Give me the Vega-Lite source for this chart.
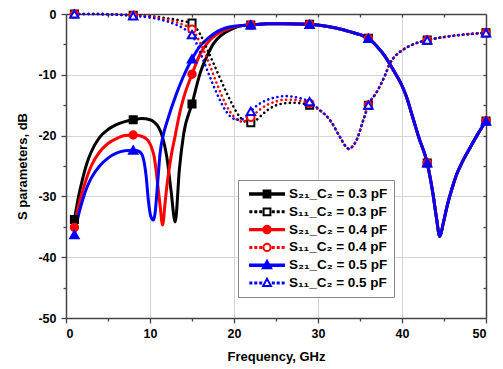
{
  "$schema": "https://vega.github.io/schema/vega-lite/v6.json",
  "width": 420,
  "height": 304,
  "autosize": "none",
  "padding": {"left": 66, "top": 14, "right": 17, "bottom": 51},
  "background": "white",
  "config": {
    "font": "Liberation Sans",
    "view": {"stroke": null},
    "legend": {"orient": "none", "legendX": 172, "legendY": 166, "padding": 6,
      "strokeColor": "#888", "fillColor": "white", "symbolSize": 1156, "symbolStrokeWidth": 2,
      "clipHeight": 16, "rowPadding": 1.8, "labelFont": "Liberation Sans", "labelFontSize": 13.5,
      "labelFontWeight": "bold", "labelColor": "black", "labelOffset": 4, "symbolOffset": 5}
  },
  "datasets": {
    "d": [
      {"s":"S₂₁_C₂ = 0.3 pF","f":1,"v":-33.8},{"s":"S₂₁_C₂ = 0.3 pF","f":1.5,"v":-30},{"s":"S₂₁_C₂ = 0.3 pF","f":2,"v":-27},{"s":"S₂₁_C₂ = 0.3 pF","f":2.5,"v":-24.5},{"s":"S₂₁_C₂ = 0.3 pF","f":3,"v":-22.7},{"s":"S₂₁_C₂ = 0.3 pF","f":4,"v":-20.3},{"s":"S₂₁_C₂ = 0.3 pF","f":5,"v":-19},{"s":"S₂₁_C₂ = 0.3 pF","f":6,"v":-18.2},{"s":"S₂₁_C₂ = 0.3 pF","f":7,"v":-17.7},{"s":"S₂₁_C₂ = 0.3 pF","f":8,"v":-17.4},{"s":"S₂₁_C₂ = 0.3 pF","f":9,"v":-17.2},{"s":"S₂₁_C₂ = 0.3 pF","f":10,"v":-17.4},{"s":"S₂₁_C₂ = 0.3 pF","f":10.5,"v":-17.8},{"s":"S₂₁_C₂ = 0.3 pF","f":11,"v":-18.6},{"s":"S₂₁_C₂ = 0.3 pF","f":11.5,"v":-20.3},{"s":"S₂₁_C₂ = 0.3 pF","f":12,"v":-23.5},{"s":"S₂₁_C₂ = 0.3 pF","f":12.5,"v":-29},{"s":"S₂₁_C₂ = 0.3 pF","f":13,"v":-34.2},{"s":"S₂₁_C₂ = 0.3 pF","f":13.5,"v":-25.5},{"s":"S₂₁_C₂ = 0.3 pF","f":14,"v":-19.8},{"s":"S₂₁_C₂ = 0.3 pF","f":15,"v":-14.8},{"s":"S₂₁_C₂ = 0.3 pF","f":16,"v":-9.6},{"s":"S₂₁_C₂ = 0.3 pF","f":16.5,"v":-7.8},{"s":"S₂₁_C₂ = 0.3 pF","f":17,"v":-6.3},{"s":"S₂₁_C₂ = 0.3 pF","f":17.5,"v":-5.0},{"s":"S₂₁_C₂ = 0.3 pF","f":18,"v":-4.1},{"s":"S₂₁_C₂ = 0.3 pF","f":19,"v":-3.0},{"s":"S₂₁_C₂ = 0.3 pF","f":20,"v":-2.3},{"s":"S₂₁_C₂ = 0.3 pF","f":21,"v":-1.9},{"s":"S₂₁_C₂ = 0.3 pF","f":22,"v":-1.8},
      {"s":"S₂₁_C₂ = 0.3 pF","f":24,"v":-1.6},{"s":"S₂₁_C₂ = 0.3 pF","f":26,"v":-1.6},{"s":"S₂₁_C₂ = 0.3 pF","f":29,"v":-1.7},{"s":"S₂₁_C₂ = 0.3 pF","f":31,"v":-2.0},{"s":"S₂₁_C₂ = 0.3 pF","f":33,"v":-2.6},{"s":"S₂₁_C₂ = 0.3 pF","f":34,"v":-3.0},{"s":"S₂₁_C₂ = 0.3 pF","f":35,"v":-3.4},{"s":"S₂₁_C₂ = 0.3 pF","f":36,"v":-4.0},{"s":"S₂₁_C₂ = 0.3 pF","f":37,"v":-5.3},{"s":"S₂₁_C₂ = 0.3 pF","f":38,"v":-7.0},{"s":"S₂₁_C₂ = 0.3 pF","f":39,"v":-9.3},{"s":"S₂₁_C₂ = 0.3 pF","f":40,"v":-11.8},{"s":"S₂₁_C₂ = 0.3 pF","f":40.5,"v":-13.5},{"s":"S₂₁_C₂ = 0.3 pF","f":41.3,"v":-17.1},{"s":"S₂₁_C₂ = 0.3 pF","f":42,"v":-20.3},{"s":"S₂₁_C₂ = 0.3 pF","f":43,"v":-24.5},{"s":"S₂₁_C₂ = 0.3 pF","f":43.7,"v":-29.7},{"s":"S₂₁_C₂ = 0.3 pF","f":44.1,"v":-33.5},{"s":"S₂₁_C₂ = 0.3 pF","f":44.5,"v":-36.6},{"s":"S₂₁_C₂ = 0.3 pF","f":44.9,"v":-34.5},{"s":"S₂₁_C₂ = 0.3 pF","f":45.3,"v":-32},{"s":"S₂₁_C₂ = 0.3 pF","f":46,"v":-28.5},{"s":"S₂₁_C₂ = 0.3 pF","f":46.5,"v":-26.4},{"s":"S₂₁_C₂ = 0.3 pF","f":47.3,"v":-24},{"s":"S₂₁_C₂ = 0.3 pF","f":48.1,"v":-22},{"s":"S₂₁_C₂ = 0.3 pF","f":49,"v":-19.8},{"s":"S₂₁_C₂ = 0.3 pF","f":50,"v":-17.6},

      {"s":"S₁₁_C₂ = 0.3 pF","f":1,"v":0},{"s":"S₁₁_C₂ = 0.3 pF","f":3,"v":0},{"s":"S₁₁_C₂ = 0.3 pF","f":5,"v":-0.05},{"s":"S₁₁_C₂ = 0.3 pF","f":8,"v":-0.2},{"s":"S₁₁_C₂ = 0.3 pF","f":10,"v":-0.35},{"s":"S₁₁_C₂ = 0.3 pF","f":11,"v":-0.5},{"s":"S₁₁_C₂ = 0.3 pF","f":12,"v":-0.7},{"s":"S₁₁_C₂ = 0.3 pF","f":13,"v":-0.9},{"s":"S₁₁_C₂ = 0.3 pF","f":14,"v":-1.2},{"s":"S₁₁_C₂ = 0.3 pF","f":15,"v":-1.5},{"s":"S₁₁_C₂ = 0.3 pF","f":15.5,"v":-2.3},{"s":"S₁₁_C₂ = 0.3 pF","f":16,"v":-3.4},{"s":"S₁₁_C₂ = 0.3 pF","f":17,"v":-6.4},{"s":"S₁₁_C₂ = 0.3 pF","f":18,"v":-9.5},{"s":"S₁₁_C₂ = 0.3 pF","f":19,"v":-12.6},{"s":"S₁₁_C₂ = 0.3 pF","f":19.8,"v":-14.9},{"s":"S₁₁_C₂ = 0.3 pF","f":20.8,"v":-17.1},{"s":"S₁₁_C₂ = 0.3 pF","f":21.5,"v":-17.8},{"s":"S₁₁_C₂ = 0.3 pF","f":22,"v":-17.9},{"s":"S₁₁_C₂ = 0.3 pF","f":22.5,"v":-17.6},{"s":"S₁₁_C₂ = 0.3 pF","f":23.4,"v":-16.5},{"s":"S₁₁_C₂ = 0.3 pF","f":24,"v":-15.8},{"s":"S₁₁_C₂ = 0.3 pF","f":25,"v":-15.0},{"s":"S₁₁_C₂ = 0.3 pF","f":26,"v":-14.7},{"s":"S₁₁_C₂ = 0.3 pF","f":27,"v":-14.6},{"s":"S₁₁_C₂ = 0.3 pF","f":28,"v":-14.7},{"s":"S₁₁_C₂ = 0.3 pF","f":29,"v":-15.0},
      {"s":"S₁₁_C₂ = 0.3 pF","f":30.2,"v":-15.8},{"s":"S₁₁_C₂ = 0.3 pF","f":31.4,"v":-17.4},{"s":"S₁₁_C₂ = 0.3 pF","f":32.6,"v":-20.2},{"s":"S₁₁_C₂ = 0.3 pF","f":33.2,"v":-21.6},{"s":"S₁₁_C₂ = 0.3 pF","f":33.7,"v":-22.2},{"s":"S₁₁_C₂ = 0.3 pF","f":34.1,"v":-21.8},{"s":"S₁₁_C₂ = 0.3 pF","f":34.6,"v":-20.7},{"s":"S₁₁_C₂ = 0.3 pF","f":35.4,"v":-17.4},{"s":"S₁₁_C₂ = 0.3 pF","f":36,"v":-15.0},{"s":"S₁₁_C₂ = 0.3 pF","f":37,"v":-12.8},{"s":"S₁₁_C₂ = 0.3 pF","f":38,"v":-10},{"s":"S₁₁_C₂ = 0.3 pF","f":38.5,"v":-8.3},{"s":"S₁₁_C₂ = 0.3 pF","f":39.2,"v":-6.9},{"s":"S₁₁_C₂ = 0.3 pF","f":40.1,"v":-5.9},{"s":"S₁₁_C₂ = 0.3 pF","f":41.5,"v":-4.9},{"s":"S₁₁_C₂ = 0.3 pF","f":43,"v":-4.3},{"s":"S₁₁_C₂ = 0.3 pF","f":44.5,"v":-3.9},{"s":"S₁₁_C₂ = 0.3 pF","f":46,"v":-3.6},{"s":"S₁₁_C₂ = 0.3 pF","f":48,"v":-3.3},{"s":"S₁₁_C₂ = 0.3 pF","f":50,"v":-3.1},

      {"s":"S₂₁_C₂ = 0.4 pF","f":1,"v":-35.1},{"s":"S₂₁_C₂ = 0.4 pF","f":1.5,"v":-31.5},{"s":"S₂₁_C₂ = 0.4 pF","f":2,"v":-29},{"s":"S₂₁_C₂ = 0.4 pF","f":2.5,"v":-26.8},{"s":"S₂₁_C₂ = 0.4 pF","f":3,"v":-25},{"s":"S₂₁_C₂ = 0.4 pF","f":4,"v":-22.7},{"s":"S₂₁_C₂ = 0.4 pF","f":5,"v":-21.3},{"s":"S₂₁_C₂ = 0.4 pF","f":6,"v":-20.5},{"s":"S₂₁_C₂ = 0.4 pF","f":7,"v":-20.0},{"s":"S₂₁_C₂ = 0.4 pF","f":8,"v":-19.9},{"s":"S₂₁_C₂ = 0.4 pF","f":9,"v":-20.1},{"s":"S₂₁_C₂ = 0.4 pF","f":9.75,"v":-20.8},{"s":"S₂₁_C₂ = 0.4 pF","f":10.2,"v":-22},{"s":"S₂₁_C₂ = 0.4 pF","f":10.5,"v":-23.5},{"s":"S₂₁_C₂ = 0.4 pF","f":10.9,"v":-27.8},{"s":"S₂₁_C₂ = 0.4 pF","f":11.2,"v":-31.5},{"s":"S₂₁_C₂ = 0.4 pF","f":11.5,"v":-34.7},{"s":"S₂₁_C₂ = 0.4 pF","f":11.8,"v":-31},{"s":"S₂₁_C₂ = 0.4 pF","f":12.05,"v":-27.8},{"s":"S₂₁_C₂ = 0.4 pF","f":12.5,"v":-23.5},{"s":"S₂₁_C₂ = 0.4 pF","f":13,"v":-20},{"s":"S₂₁_C₂ = 0.4 pF","f":13.5,"v":-16.5},{"s":"S₂₁_C₂ = 0.4 pF","f":14,"v":-13.8},{"s":"S₂₁_C₂ = 0.4 pF","f":15,"v":-9.9},{"s":"S₂₁_C₂ = 0.4 pF","f":16,"v":-6.5},{"s":"S₂₁_C₂ = 0.4 pF","f":17,"v":-4.5},{"s":"S₂₁_C₂ = 0.4 pF","f":18,"v":-3.3},{"s":"S₂₁_C₂ = 0.4 pF","f":19,"v":-2.6},{"s":"S₂₁_C₂ = 0.4 pF","f":20,"v":-2.1},{"s":"S₂₁_C₂ = 0.4 pF","f":21,"v":-1.9},{"s":"S₂₁_C₂ = 0.4 pF","f":22,"v":-1.8},
      {"s":"S₂₁_C₂ = 0.4 pF","f":24,"v":-1.6},{"s":"S₂₁_C₂ = 0.4 pF","f":26,"v":-1.6},{"s":"S₂₁_C₂ = 0.4 pF","f":29,"v":-1.7},{"s":"S₂₁_C₂ = 0.4 pF","f":31,"v":-2.0},{"s":"S₂₁_C₂ = 0.4 pF","f":33,"v":-2.6},{"s":"S₂₁_C₂ = 0.4 pF","f":34,"v":-3.0},{"s":"S₂₁_C₂ = 0.4 pF","f":35,"v":-3.4},{"s":"S₂₁_C₂ = 0.4 pF","f":36,"v":-4.0},{"s":"S₂₁_C₂ = 0.4 pF","f":37,"v":-5.3},{"s":"S₂₁_C₂ = 0.4 pF","f":38,"v":-7.0},{"s":"S₂₁_C₂ = 0.4 pF","f":39,"v":-9.3},{"s":"S₂₁_C₂ = 0.4 pF","f":40,"v":-11.8},{"s":"S₂₁_C₂ = 0.4 pF","f":40.5,"v":-13.5},{"s":"S₂₁_C₂ = 0.4 pF","f":41.3,"v":-17.1},{"s":"S₂₁_C₂ = 0.4 pF","f":42,"v":-20.3},{"s":"S₂₁_C₂ = 0.4 pF","f":43,"v":-24.5},{"s":"S₂₁_C₂ = 0.4 pF","f":43.7,"v":-29.7},{"s":"S₂₁_C₂ = 0.4 pF","f":44.1,"v":-33.5},{"s":"S₂₁_C₂ = 0.4 pF","f":44.5,"v":-36.6},{"s":"S₂₁_C₂ = 0.4 pF","f":44.9,"v":-34.5},{"s":"S₂₁_C₂ = 0.4 pF","f":45.3,"v":-32},{"s":"S₂₁_C₂ = 0.4 pF","f":46,"v":-28.5},{"s":"S₂₁_C₂ = 0.4 pF","f":46.5,"v":-26.4},{"s":"S₂₁_C₂ = 0.4 pF","f":47.3,"v":-24},{"s":"S₂₁_C₂ = 0.4 pF","f":48.1,"v":-22},{"s":"S₂₁_C₂ = 0.4 pF","f":49,"v":-19.8},{"s":"S₂₁_C₂ = 0.4 pF","f":50,"v":-17.6},

      {"s":"S₁₁_C₂ = 0.4 pF","f":1,"v":0},{"s":"S₁₁_C₂ = 0.4 pF","f":3,"v":0},{"s":"S₁₁_C₂ = 0.4 pF","f":5,"v":-0.05},{"s":"S₁₁_C₂ = 0.4 pF","f":8,"v":-0.25},{"s":"S₁₁_C₂ = 0.4 pF","f":10,"v":-0.45},{"s":"S₁₁_C₂ = 0.4 pF","f":11,"v":-0.65},{"s":"S₁₁_C₂ = 0.4 pF","f":12,"v":-0.9},{"s":"S₁₁_C₂ = 0.4 pF","f":13,"v":-1.3},{"s":"S₁₁_C₂ = 0.4 pF","f":14,"v":-1.8},{"s":"S₁₁_C₂ = 0.4 pF","f":15,"v":-2.5},{"s":"S₁₁_C₂ = 0.4 pF","f":16,"v":-4.8},{"s":"S₁₁_C₂ = 0.4 pF","f":17,"v":-8.0},{"s":"S₁₁_C₂ = 0.4 pF","f":18,"v":-11.6},{"s":"S₁₁_C₂ = 0.4 pF","f":19,"v":-14.8},{"s":"S₁₁_C₂ = 0.4 pF","f":20,"v":-16.9},{"s":"S₁₁_C₂ = 0.4 pF","f":20.5,"v":-17.5},{"s":"S₁₁_C₂ = 0.4 pF","f":21,"v":-17.7},{"s":"S₁₁_C₂ = 0.4 pF","f":21.5,"v":-17.5},{"s":"S₁₁_C₂ = 0.4 pF","f":22,"v":-17.0},{"s":"S₁₁_C₂ = 0.4 pF","f":23,"v":-15.8},{"s":"S₁₁_C₂ = 0.4 pF","f":24,"v":-14.9},{"s":"S₁₁_C₂ = 0.4 pF","f":25,"v":-14.4},{"s":"S₁₁_C₂ = 0.4 pF","f":26,"v":-14.1},{"s":"S₁₁_C₂ = 0.4 pF","f":27,"v":-14.1},{"s":"S₁₁_C₂ = 0.4 pF","f":28,"v":-14.3},{"s":"S₁₁_C₂ = 0.4 pF","f":29,"v":-14.7},
      {"s":"S₁₁_C₂ = 0.4 pF","f":30.2,"v":-15.8},{"s":"S₁₁_C₂ = 0.4 pF","f":31.4,"v":-17.4},{"s":"S₁₁_C₂ = 0.4 pF","f":32.6,"v":-20.2},{"s":"S₁₁_C₂ = 0.4 pF","f":33.2,"v":-21.6},{"s":"S₁₁_C₂ = 0.4 pF","f":33.7,"v":-22.2},{"s":"S₁₁_C₂ = 0.4 pF","f":34.1,"v":-21.8},{"s":"S₁₁_C₂ = 0.4 pF","f":34.6,"v":-20.7},{"s":"S₁₁_C₂ = 0.4 pF","f":35.4,"v":-17.4},{"s":"S₁₁_C₂ = 0.4 pF","f":36,"v":-15.0},{"s":"S₁₁_C₂ = 0.4 pF","f":37,"v":-12.8},{"s":"S₁₁_C₂ = 0.4 pF","f":38,"v":-10},{"s":"S₁₁_C₂ = 0.4 pF","f":38.5,"v":-8.3},{"s":"S₁₁_C₂ = 0.4 pF","f":39.2,"v":-6.9},{"s":"S₁₁_C₂ = 0.4 pF","f":40.1,"v":-5.9},{"s":"S₁₁_C₂ = 0.4 pF","f":41.5,"v":-4.9},{"s":"S₁₁_C₂ = 0.4 pF","f":43,"v":-4.3},{"s":"S₁₁_C₂ = 0.4 pF","f":44.5,"v":-3.9},{"s":"S₁₁_C₂ = 0.4 pF","f":46,"v":-3.6},{"s":"S₁₁_C₂ = 0.4 pF","f":48,"v":-3.3},{"s":"S₁₁_C₂ = 0.4 pF","f":50,"v":-3.1},

      {"s":"S₂₁_C₂ = 0.5 pF","f":1,"v":-36.3},{"s":"S₂₁_C₂ = 0.5 pF","f":1.5,"v":-33},{"s":"S₂₁_C₂ = 0.5 pF","f":2,"v":-30.5},{"s":"S₂₁_C₂ = 0.5 pF","f":2.5,"v":-28.5},{"s":"S₂₁_C₂ = 0.5 pF","f":3,"v":-27},{"s":"S₂₁_C₂ = 0.5 pF","f":4,"v":-25},{"s":"S₂₁_C₂ = 0.5 pF","f":5,"v":-23.7},{"s":"S₂₁_C₂ = 0.5 pF","f":6,"v":-22.9},{"s":"S₂₁_C₂ = 0.5 pF","f":7,"v":-22.5},{"s":"S₂₁_C₂ = 0.5 pF","f":8,"v":-22.4},{"s":"S₂₁_C₂ = 0.5 pF","f":8.5,"v":-22.5},{"s":"S₂₁_C₂ = 0.5 pF","f":9,"v":-23},{"s":"S₂₁_C₂ = 0.5 pF","f":9.55,"v":-26.8},{"s":"S₂₁_C₂ = 0.5 pF","f":9.8,"v":-30.6},{"s":"S₂₁_C₂ = 0.5 pF","f":10.1,"v":-33.3},{"s":"S₂₁_C₂ = 0.5 pF","f":10.4,"v":-33.9},{"s":"S₂₁_C₂ = 0.5 pF","f":10.6,"v":-32.8},{"s":"S₂₁_C₂ = 0.5 pF","f":10.9,"v":-28},{"s":"S₂₁_C₂ = 0.5 pF","f":11.2,"v":-22.9},{"s":"S₂₁_C₂ = 0.5 pF","f":11.6,"v":-19.8},{"s":"S₂₁_C₂ = 0.5 pF","f":12.1,"v":-17.4},{"s":"S₂₁_C₂ = 0.5 pF","f":13.1,"v":-13.3},{"s":"S₂₁_C₂ = 0.5 pF","f":14,"v":-10.2},{"s":"S₂₁_C₂ = 0.5 pF","f":15,"v":-7.4},{"s":"S₂₁_C₂ = 0.5 pF","f":16,"v":-5.2},{"s":"S₂₁_C₂ = 0.5 pF","f":17,"v":-3.9},{"s":"S₂₁_C₂ = 0.5 pF","f":18,"v":-2.9},{"s":"S₂₁_C₂ = 0.5 pF","f":19,"v":-2.3},{"s":"S₂₁_C₂ = 0.5 pF","f":20,"v":-2.0},{"s":"S₂₁_C₂ = 0.5 pF","f":21,"v":-1.9},{"s":"S₂₁_C₂ = 0.5 pF","f":22,"v":-1.8},
      {"s":"S₂₁_C₂ = 0.5 pF","f":24,"v":-1.6},{"s":"S₂₁_C₂ = 0.5 pF","f":26,"v":-1.6},{"s":"S₂₁_C₂ = 0.5 pF","f":29,"v":-1.7},{"s":"S₂₁_C₂ = 0.5 pF","f":31,"v":-2.0},{"s":"S₂₁_C₂ = 0.5 pF","f":33,"v":-2.6},{"s":"S₂₁_C₂ = 0.5 pF","f":34,"v":-3.0},{"s":"S₂₁_C₂ = 0.5 pF","f":35,"v":-3.4},{"s":"S₂₁_C₂ = 0.5 pF","f":36,"v":-4.0},{"s":"S₂₁_C₂ = 0.5 pF","f":37,"v":-5.3},{"s":"S₂₁_C₂ = 0.5 pF","f":38,"v":-7.0},{"s":"S₂₁_C₂ = 0.5 pF","f":39,"v":-9.3},{"s":"S₂₁_C₂ = 0.5 pF","f":40,"v":-11.8},{"s":"S₂₁_C₂ = 0.5 pF","f":40.5,"v":-13.5},{"s":"S₂₁_C₂ = 0.5 pF","f":41.3,"v":-17.1},{"s":"S₂₁_C₂ = 0.5 pF","f":42,"v":-20.3},{"s":"S₂₁_C₂ = 0.5 pF","f":43,"v":-24.5},{"s":"S₂₁_C₂ = 0.5 pF","f":43.7,"v":-29.7},{"s":"S₂₁_C₂ = 0.5 pF","f":44.1,"v":-33.5},{"s":"S₂₁_C₂ = 0.5 pF","f":44.5,"v":-36.6},{"s":"S₂₁_C₂ = 0.5 pF","f":44.9,"v":-34.5},{"s":"S₂₁_C₂ = 0.5 pF","f":45.3,"v":-32},{"s":"S₂₁_C₂ = 0.5 pF","f":46,"v":-28.5},{"s":"S₂₁_C₂ = 0.5 pF","f":46.5,"v":-26.4},{"s":"S₂₁_C₂ = 0.5 pF","f":47.3,"v":-24},{"s":"S₂₁_C₂ = 0.5 pF","f":48.1,"v":-22},{"s":"S₂₁_C₂ = 0.5 pF","f":49,"v":-19.8},{"s":"S₂₁_C₂ = 0.5 pF","f":50,"v":-17.6},

      {"s":"S₁₁_C₂ = 0.5 pF","f":1,"v":0},{"s":"S₁₁_C₂ = 0.5 pF","f":3,"v":0},{"s":"S₁₁_C₂ = 0.5 pF","f":5,"v":-0.05},{"s":"S₁₁_C₂ = 0.5 pF","f":8,"v":-0.3},{"s":"S₁₁_C₂ = 0.5 pF","f":10,"v":-0.6},{"s":"S₁₁_C₂ = 0.5 pF","f":11,"v":-0.85},{"s":"S₁₁_C₂ = 0.5 pF","f":12,"v":-1.2},{"s":"S₁₁_C₂ = 0.5 pF","f":13,"v":-1.7},{"s":"S₁₁_C₂ = 0.5 pF","f":14,"v":-2.4},{"s":"S₁₁_C₂ = 0.5 pF","f":15,"v":-3.4},{"s":"S₁₁_C₂ = 0.5 pF","f":16,"v":-6.4},{"s":"S₁₁_C₂ = 0.5 pF","f":17,"v":-9.9},{"s":"S₁₁_C₂ = 0.5 pF","f":18,"v":-13.2},{"s":"S₁₁_C₂ = 0.5 pF","f":19,"v":-15.9},{"s":"S₁₁_C₂ = 0.5 pF","f":19.8,"v":-17.1},{"s":"S₁₁_C₂ = 0.5 pF","f":20.5,"v":-17.4},{"s":"S₁₁_C₂ = 0.5 pF","f":21,"v":-17.3},{"s":"S₁₁_C₂ = 0.5 pF","f":21.5,"v":-16.9},{"s":"S₁₁_C₂ = 0.5 pF","f":22,"v":-16.0},{"s":"S₁₁_C₂ = 0.5 pF","f":23,"v":-14.8},{"s":"S₁₁_C₂ = 0.5 pF","f":24,"v":-14.1},{"s":"S₁₁_C₂ = 0.5 pF","f":25,"v":-13.7},{"s":"S₁₁_C₂ = 0.5 pF","f":26,"v":-13.5},{"s":"S₁₁_C₂ = 0.5 pF","f":27,"v":-13.6},{"s":"S₁₁_C₂ = 0.5 pF","f":28,"v":-13.9},{"s":"S₁₁_C₂ = 0.5 pF","f":29,"v":-14.4},
      {"s":"S₁₁_C₂ = 0.5 pF","f":30.2,"v":-15.8},{"s":"S₁₁_C₂ = 0.5 pF","f":31.4,"v":-17.4},{"s":"S₁₁_C₂ = 0.5 pF","f":32.6,"v":-20.2},{"s":"S₁₁_C₂ = 0.5 pF","f":33.2,"v":-21.6},{"s":"S₁₁_C₂ = 0.5 pF","f":33.7,"v":-22.2},{"s":"S₁₁_C₂ = 0.5 pF","f":34.1,"v":-21.8},{"s":"S₁₁_C₂ = 0.5 pF","f":34.6,"v":-20.7},{"s":"S₁₁_C₂ = 0.5 pF","f":35.4,"v":-17.4},{"s":"S₁₁_C₂ = 0.5 pF","f":36,"v":-15.0},{"s":"S₁₁_C₂ = 0.5 pF","f":37,"v":-12.8},{"s":"S₁₁_C₂ = 0.5 pF","f":38,"v":-10},{"s":"S₁₁_C₂ = 0.5 pF","f":38.5,"v":-8.3},{"s":"S₁₁_C₂ = 0.5 pF","f":39.2,"v":-6.9},{"s":"S₁₁_C₂ = 0.5 pF","f":40.1,"v":-5.9},{"s":"S₁₁_C₂ = 0.5 pF","f":41.5,"v":-4.9},{"s":"S₁₁_C₂ = 0.5 pF","f":43,"v":-4.3},{"s":"S₁₁_C₂ = 0.5 pF","f":44.5,"v":-3.9},{"s":"S₁₁_C₂ = 0.5 pF","f":46,"v":-3.6},{"s":"S₁₁_C₂ = 0.5 pF","f":48,"v":-3.3},{"s":"S₁₁_C₂ = 0.5 pF","f":50,"v":-3.1}
    ]
  },
  "resolve": {"axis": {"x": "independent", "y": "independent"}},
  "layer": [
    {
      "data": {"name": "d"},
      "transform": [{"filter": "datum.f < 0"}],
      "mark": {"type": "point", "strokeWidth": 2, "opacity": 1},
      "encoding": {
        "x": {"field": "f", "type": "quantitative", "scale": {"domain": [0, 50], "nice": false},
          "axis": {"orient": "top", "values": [5,10,15,20,25,30,35,40,45], "labels": false, "title": null, "grid": false,
          "tickSize": -3, "tickColor": "#444", "tickWidth": 1.3, "domainColor": "#444", "domainWidth": 1.5}},
        "y": {"field": "v", "type": "quantitative", "scale": {"domain": [-50, 0], "nice": false},
          "axis": {"orient": "right", "values": [-5,-10,-15,-20,-25,-30,-35,-40,-45], "labels": false, "title": null, "grid": false,
          "tickSize": -3, "tickColor": "#444", "tickWidth": 1.3, "domainColor": "#444", "domainWidth": 1.5}},
        "stroke": {"field": "s", "type": "nominal", "legend": {"title": null},
          "scale": {"domain": ["S₂₁_C₂ = 0.3 pF","S₁₁_C₂ = 0.3 pF","S₂₁_C₂ = 0.4 pF","S₁₁_C₂ = 0.4 pF","S₂₁_C₂ = 0.5 pF","S₁₁_C₂ = 0.5 pF"],
            "range": ["#000000","#000000","#ff0000","#ff0000","#0000ff","#0000ff"]}},
        "fill": {"field": "s", "type": "nominal", "legend": {"title": null},
          "scale": {"domain": ["S₂₁_C₂ = 0.3 pF","S₁₁_C₂ = 0.3 pF","S₂₁_C₂ = 0.4 pF","S₁₁_C₂ = 0.4 pF","S₂₁_C₂ = 0.5 pF","S₁₁_C₂ = 0.5 pF"],
            "range": ["#000000","#ffffff","#ff0000","#ffffff","#0000ff","#ffffff"]}},
        "shape": {"field": "s", "type": "nominal", "legend": {"title": null},
          "scale": {"domain": ["S₂₁_C₂ = 0.3 pF","S₁₁_C₂ = 0.3 pF","S₂₁_C₂ = 0.4 pF","S₁₁_C₂ = 0.4 pF","S₂₁_C₂ = 0.5 pF","S₁₁_C₂ = 0.5 pF"],
            "range": [
              "M-1,-0.04H1V0.04H-1ZM-0.2,-0.2H0.2V0.2H-0.2Z",
              "M-0.98,-0.03H-0.92V0.03H-0.98ZM-0.69,-0.03H-0.63V0.03H-0.69ZM-0.4,-0.03H-0.34V0.03H-0.4ZM0.34,-0.03H0.4V0.03H0.34ZM0.63,-0.03H0.69V0.03H0.63ZM0.92,-0.03H0.98V0.03H0.92ZM-0.2,-0.2H0.2V0.2H-0.2Z",
              "M-1,-0.04H1V0.04H-1ZM-0.22,0A0.22,0.22,0,1,0,0.22,0A0.22,0.22,0,1,0,-0.22,0Z",
              "M-0.98,-0.03H-0.92V0.03H-0.98ZM-0.69,-0.03H-0.63V0.03H-0.69ZM-0.4,-0.03H-0.34V0.03H-0.4ZM0.34,-0.03H0.4V0.03H0.34ZM0.63,-0.03H0.69V0.03H0.63ZM0.92,-0.03H0.98V0.03H0.92ZM-0.21,0A0.21,0.21,0,1,0,0.21,0A0.21,0.21,0,1,0,-0.21,0Z",
              "M-1,-0.04H1V0.04H-1ZM0,-0.26L0.25,0.18H-0.25Z",
              "M-0.98,-0.03H-0.92V0.03H-0.98ZM-0.69,-0.03H-0.63V0.03H-0.69ZM-0.4,-0.03H-0.34V0.03H-0.4ZM0.34,-0.03H0.4V0.03H0.34ZM0.63,-0.03H0.69V0.03H0.63ZM0.92,-0.03H0.98V0.03H0.92ZM0,-0.25L0.23,0.17H-0.23Z"
            ]}}
      }
    },
    {
      "data": {"name": "d"},
      "transform": [{"filter": "indexof(datum.s, 'S₂₁') === 0"}],
      "mark": {"type": "line", "strokeWidth": 3, "interpolate": "monotone"},
      "encoding": {
        "x": {"field": "f", "type": "quantitative",
          "axis": {"orient": "bottom", "values": [0,5,10,15,20,25,30,35,40,45,50],
            "labelExpr": "datum.value % 10 === 0 ? datum.label : ''",
            "title": "Frequency, GHz", "titleFontSize": 13, "titleFontWeight": "bold", "titleColor": "black", "titlePadding": 11,
            "labelFontSize": 12.5, "labelFontWeight": "bold", "labelColor": "black", "labelPadding": 4,
            "tickSize": {"condition": {"test": "datum.value % 10 === 0", "value": 5}, "value": 3},
            "tickColor": "#444", "tickWidth": 1.3, "domainColor": "#444", "domainWidth": 1.5,
            "grid": true, "gridColor": "#d4d4d4",
            "gridOpacity": {"condition": {"test": "datum.value % 10 === 0", "value": 1}, "value": 0}}},
        "y": {"field": "v", "type": "quantitative",
          "axis": {"orient": "left", "values": [0,-5,-10,-15,-20,-25,-30,-35,-40,-45,-50],
            "labelExpr": "datum.value % 10 === 0 ? '' + datum.value : ''",
            "title": "S parameters, dB", "titleFontSize": 13, "titleFontWeight": "bold", "titleColor": "black", "titlePadding": 8,
            "labelFontSize": 12.5, "labelFontWeight": "bold", "labelColor": "black", "labelPadding": 5,
            "tickSize": {"condition": {"test": "datum.value % 10 === 0", "value": 5}, "value": 3},
            "tickColor": "#444", "tickWidth": 1.3, "domainColor": "#444", "domainWidth": 1.5,
            "grid": true, "gridColor": "#d4d4d4",
            "gridOpacity": {"condition": {"test": "datum.value % 10 === 0", "value": 1}, "value": 0}}},
        "stroke": {"field": "s", "type": "nominal", "legend": null}
      }
    },
    {
      "data": {"name": "d"},
      "transform": [{"filter": "indexof(datum.s, 'S₁₁') === 0"}],
      "mark": {"type": "line", "strokeWidth": 2.6, "strokeDash": [0.1, 4.6], "strokeCap": "round", "interpolate": "monotone"},
      "encoding": {
        "x": {"field": "f", "type": "quantitative", "axis": null},
        "y": {"field": "v", "type": "quantitative", "axis": null},
        "stroke": {"field": "s", "type": "nominal", "legend": null}
      }
    },
    {
      "data": {"name": "d"},
      "transform": [{"filter": "indexof(datum.s, '0.3') >= 0 && (datum.f - 1) % 7 === 0"}],
      "mark": {"type": "point", "shape": "square", "size": 50, "strokeWidth": 2, "opacity": 1},
      "encoding": {
        "x": {"field": "f", "type": "quantitative", "axis": null},
        "y": {"field": "v", "type": "quantitative", "axis": null},
        "stroke": {"field": "s", "type": "nominal", "legend": null},
        "fill": {"field": "s", "type": "nominal", "legend": null}
      }
    },
    {
      "data": {"name": "d"},
      "transform": [{"filter": "indexof(datum.s, '0.4') >= 0 && (datum.f - 1) % 7 === 0"}],
      "mark": {"type": "point", "shape": "circle", "size": 55, "strokeWidth": 2, "opacity": 1},
      "encoding": {
        "x": {"field": "f", "type": "quantitative", "axis": null},
        "y": {"field": "v", "type": "quantitative", "axis": null},
        "stroke": {"field": "s", "type": "nominal", "legend": null},
        "fill": {"field": "s", "type": "nominal", "legend": null}
      }
    },
    {
      "data": {"name": "d"},
      "transform": [{"filter": "indexof(datum.s, '0.5') >= 0 && (datum.f - 1) % 7 === 0"}],
      "mark": {"type": "point", "shape": "triangle-up", "size": 70, "strokeWidth": 2, "opacity": 1},
      "encoding": {
        "x": {"field": "f", "type": "quantitative", "axis": null},
        "y": {"field": "v", "type": "quantitative", "axis": null},
        "stroke": {"field": "s", "type": "nominal", "legend": null},
        "fill": {"field": "s", "type": "nominal", "legend": null}
      }
    }
  ]
}
